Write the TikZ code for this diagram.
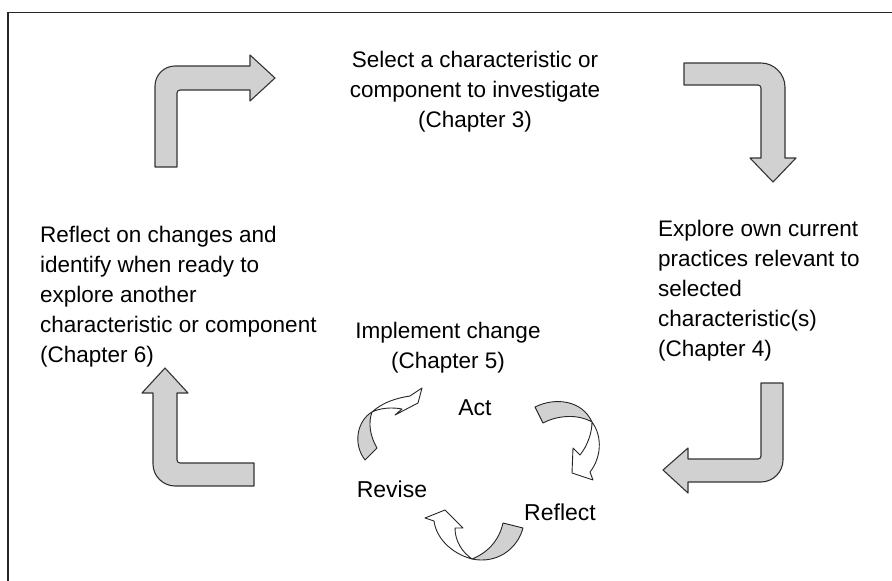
\documentclass[tikz,border=0pt]{standalone}
\usepackage{fontspec}
\setmainfont{Liberation Sans}
\begin{document}
\begin{tikzpicture}[x=1pt,y=-1pt,
  bigarrow/.style={draw=black!80,line width=1.1pt,fill=black!18,line join=round},
  smgray/.style={draw=black!85,line width=0.9pt,fill=black!18,line join=round},
  smwhite/.style={draw=black!85,line width=0.9pt,fill=white,line join=round},
  txt/.style={inner sep=0pt,font=\fontsize{22.5}{30}\selectfont},
  lbl/.style={inner sep=0pt,font=\fontsize{23}{30}\selectfont}]
\useasboundingbox (0,0) rectangle (892,581);
\fill[white] (0,0) rectangle (892,581);
\draw[line width=1.2pt,black!85] (8,581) -- (8,12.5) -- (892,12.5);
% big arrows
\draw[bigarrow] (155,167) -- (155,86) .. controls (155,75) and (164,66) .. (175,66) -- (250,66) -- (250,55) -- (275,78) -- (250,101) -- (250,90) -- (180,90) .. controls (178.3,90) and (177,91.3) .. (177,93) -- (177,167) -- cycle;
\draw[bigarrow] (684,63) -- (761,63) .. controls (774,63) and (785,74) .. (785,87) -- (785,158) -- (796,158) -- (773,182) -- (750,158) -- (761,158) -- (761,88) .. controls (761,86.3) and (759.7,85) .. (758,85) -- (684,85) -- cycle;
\draw[bigarrow] (761,383) -- (783,383) -- (783,460) .. controls (783,472) and (773,482) .. (761,482) -- (688,482) -- (688,493) -- (663,470) -- (688,448) -- (688,459) -- (758,459) .. controls (759.7,459) and (761,457.7) .. (761,456) -- cycle;
\draw[bigarrow] (254,463) -- (180,463) .. controls (178.3,463) and (177,461.7) .. (177,460) -- (177,393) -- (188,393) -- (165,368) -- (142,393) -- (153,393) -- (153,464) .. controls (153,476) and (163,486) .. (175,486) -- (254,486) -- cycle;
% texts
\node[txt,align=center,anchor=base] (sel) at (475,127) {Select a characteristic or\\component to investigate\\(Chapter 3)};
\node[txt,align=left,anchor=base west] (exp) at (658,356) {Explore own current\\practices relevant to\\selected\\characteristic(s)\\(Chapter 4)};
\node[txt,align=left,anchor=base west] (ref) at (40,362) {Reflect on changes and\\identify when ready to\\explore another\\characteristic or component\\(Chapter 6)};
\node[txt,align=center,anchor=base] (imp) at (448,368) {Implement change\\(Chapter 5)};
\node[lbl,anchor=base] (act) at (475,415) {Act};
\node[lbl,anchor=base] (rev) at (392,497) {Revise};
\node[lbl,anchor=base] (rfl) at (560,520) {Reflect};
% small twisted arrows
% arrow Revise -> Act
\draw[smgray] (377,448) .. controls (370,436) and (368,423) .. (372,412) .. controls (358,420) and (352,443) .. (365,460) -- cycle;
\draw[smwhite] (372,412) .. controls (383,402) and (397,398) .. (410,396) -- (422,388) -- (418,403) -- (395,415) -- (402,409) .. controls (392,407) and (380,408) .. (372,412) -- cycle;
% arrow Act -> Reflect
\draw[smgray] (535,407) .. controls (555,397) and (582,400) .. (592,422) .. controls (578,414) and (558,415) .. (543,423) -- cycle;
\draw[smwhite] (592,422) .. controls (603,437) and (601,458) .. (590,472) -- (593,480) -- (572,473) -- (573,448) -- (580,455) .. controls (588,445) and (592,432) .. (592,422) -- cycle;
% arrow Reflect -> Revise
\draw[smgray] (503,523) .. controls (499,541) and (487,553) .. (472,559) .. controls (496,564) and (517,550) .. (523,528) -- cycle;
\draw[smwhite] (472,559) .. controls (450,553) and (436,537) .. (434,521) -- (425,518) -- (445,510) -- (463,528) -- (455,528) .. controls (455,541) and (462,552) .. (472,559) -- cycle;
\end{tikzpicture}
\end{document}
